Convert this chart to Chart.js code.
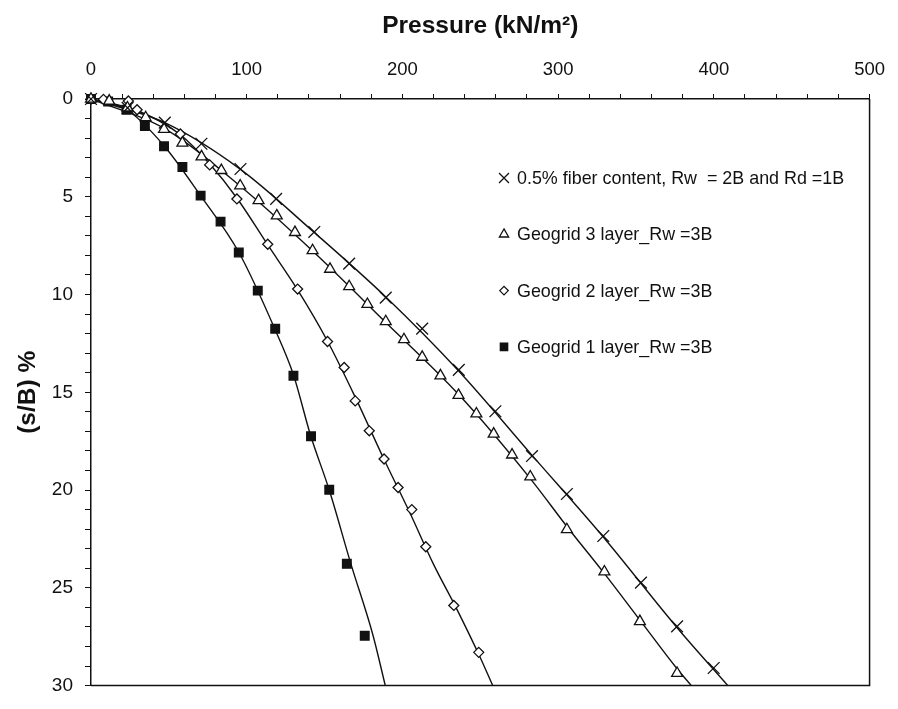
<!DOCTYPE html>
<html>
<head>
<meta charset="utf-8">
<title>Pressure vs settlement ratio</title>
<script src="https://cdn.jsdelivr.net/npm/chart.js@4.4.1/dist/chart.umd.min.js"></script>
<style>
  html, body { margin: 0; padding: 0; background: #fff; }
  #wrap { width: 898px; height: 709px; position: relative; }
</style>
</head>
<body>
<div id="wrap"><canvas id="c" width="898" height="709"></canvas></div>
<script>
// Series labels
const seriesNames = [
  '0.5% fiber content, Rw  = 2B and Rd =1B',
  'Geogrid 3 layer_Rw =3B',
  'Geogrid 2 layer_Rw =3B',
  'Geogrid 1 layer_Rw =3B'
];

// Measured points: pressure (kN/m2) and settlement ratio s/B (%)
const fiberP = [0, 23.5, 47.4, 70.9, 96.0, 118.9, 143.4, 165.8, 189.3, 212.7, 236.2, 259.7, 283.2, 305.6, 329.0, 353.2, 376.4, 399.9];
const fiberS = [0, 0.45, 1.21, 2.29, 3.58, 5.11, 6.8, 8.42, 10.16, 11.74, 13.85, 15.97, 18.26, 20.2, 22.35, 24.73, 26.97, 29.1];

const grid3P = [0, 11.7, 23.4, 35.1, 46.9, 58.7, 71.0, 83.7, 95.8, 107.6, 119.3, 131.0, 142.3, 153.5, 165.8, 177.5, 189.3, 201.0, 212.7, 224.4, 236.0, 247.5, 258.6, 270.4, 282.1, 305.6, 329.7, 352.5, 376.4];
const grid3S = [0, 0.1, 0.45, 0.95, 1.55, 2.25, 2.95, 3.65, 4.44, 5.19, 5.97, 6.82, 7.75, 8.7, 9.59, 10.5, 11.38, 12.3, 13.2, 14.15, 15.15, 16.1, 17.13, 18.2, 19.32, 22.02, 24.18, 26.72, 29.37];

const grid2P = [0, 8, 24, 29.6, 57.4, 76.2, 93.7, 113.5, 132.7, 151.9, 162.6, 169.7, 178.7, 188.2, 197.2, 206, 215, 233, 249];
const grid2S = [0, 0.02, 0.1, 0.55, 1.79, 3.37, 5.11, 7.43, 9.72, 12.4, 13.73, 15.44, 16.97, 18.41, 19.87, 21.0, 22.9, 25.9, 28.3];

const grid1P = [0, 11, 22.8, 34.6, 46.9, 58.7, 70.4, 83.2, 94.9, 107.1, 118.3, 130.0, 141.3, 153.0, 164.3, 175.8];
const grid1S = [0, 0.13, 0.55, 1.38, 2.42, 3.48, 4.94, 6.27, 7.85, 9.8, 11.75, 14.15, 17.25, 19.98, 23.77, 27.45];

// Fitted curves through each data set, continued to the bottom of the plot
const fiberFitP = [0, 47, 96, 143, 189, 236, 283, 329, 376, 409];
const fiberFitS = [0, 1.2, 3.6, 6.8, 10.1, 13.9, 18.2, 22.4, 27.0, 30];
const grid3FitP = [0, 47, 95, 142, 189, 236, 282, 306, 330, 353, 376, 385.5];
const grid3FitS = [0, 1.5, 4.4, 7.75, 11.4, 15.1, 19.4, 21.9, 24.3, 26.7, 29.1, 30];
const grid2FitP = [0, 30, 57, 76, 94, 113, 133, 152, 170, 188, 205, 220, 235, 249, 258];
const grid2FitS = [0, 0.6, 1.8, 3.3, 5.1, 7.4, 9.8, 12.4, 15.3, 18.4, 21.2, 23.8, 26.1, 28.4, 30];
const grid1FitP = [0, 23, 47, 70, 95, 118, 130, 141, 153, 167, 181, 189];
const grid1FitS = [0, 0.55, 2.4, 4.9, 7.85, 11.75, 14.1, 17.2, 20, 23.8, 27.4, 30];

// Axis ticks
const xTickLabels = [0, 100, 200, 300, 400, 500];
const yTickLabels = [0, 5, 10, 15, 20, 25, 30];

const pts = (xs, ys) => xs.map((x, i) => ({ x, y: ys[i] }));
const FONT = '"Liberation Sans", Arial, Helvetica, sans-serif';
const INK = '#111';

function curve(xs, ys) {
  return {
    type: 'line', data: pts(xs, ys), borderColor: INK, borderWidth: 1.4,
    pointRadius: 0, fill: false, cubicInterpolationMode: 'monotone',
    order: 2, isFit: true
  };
}
function marks(label, xs, ys, style, radius, fill) {
  return {
    type: 'scatter', label, data: pts(xs, ys), showLine: false,
    pointStyle: style, pointRadius: radius, pointBorderWidth: 1.3,
    pointBorderColor: INK, pointBackgroundColor: fill,
    borderColor: INK, backgroundColor: fill,
    clip: false, order: 1
  };
}

const markerDefs = [
  marks(seriesNames[0], fiberP, fiberS, 'crossRot', 8.3, INK),
  marks(seriesNames[1], grid3P, grid3S, 'triangle', 6.3, '#fff'),
  marks(seriesNames[2], grid2P, grid2S, 'rectRot', 5, '#fff'),
  marks(seriesNames[3], grid1P, grid1S, 'rect', 6.1, INK)
];

// Frame on the right and bottom edges of the plot
const frame = {
  id: 'frame',
  afterDatasetsDraw(chart) {
    const { ctx, chartArea: a } = chart;
    ctx.save();
    ctx.strokeStyle = INK; ctx.lineWidth = 1.5;
    ctx.beginPath();
    ctx.moveTo(a.right, a.top); ctx.lineTo(a.right, a.bottom); ctx.lineTo(a.left, a.bottom);
    ctx.stroke();
    ctx.restore();
  }
};

// Key drawn inside the plot, marker then label
const key = {
  id: 'key',
  afterDraw(chart) {
    const { ctx, chartArea: a } = chart;
    const x0 = a.left + 413, y0 = a.top + 79, gap = 56.3;
    ctx.save();
    chart.data.datasets.filter(d => !d.isFit).forEach((d, i) => {
      const y = y0 + i * gap;
      ctx.strokeStyle = INK; ctx.fillStyle = d.pointBackgroundColor; ctx.lineWidth = 1.3;
      Chart.helpers.drawPoint(ctx, { pointStyle: d.pointStyle, radius: d.pointRadius * 0.85, rotation: 0, borderWidth: 1.3 }, x0, y);
      ctx.fillStyle = INK;
      ctx.font = '17.9px ' + FONT;
      ctx.textBaseline = 'middle'; ctx.textAlign = 'left';
      ctx.fillText(d.label, x0 + 13, y + 1);
    });
    ctx.restore();
  }
};

new Chart(document.getElementById('c'), {
  data: {
    datasets: [
      ...markerDefs,
      curve(fiberFitP, fiberFitS),
      curve(grid3FitP, grid3FitS),
      curve(grid2FitP, grid2FitS),
      curve(grid1FitP, grid1FitS)
    ]
  },
  options: {
    responsive: false, animation: false,
    layout: { padding: { left: 0, top: 0, right: 26, bottom: 6 } },
    plugins: { legend: { display: false }, tooltip: { enabled: false } },
    scales: {
      x: {
        type: 'linear', position: 'top', min: 0, max: 500,
        afterFit(s) { s.height = 99; },
        ticks: {
          stepSize: 20, autoSkip: false, maxRotation: 0, padding: 13, color: INK,
          font: { family: FONT, size: 18.5 },
          callback: v => xTickLabels.includes(v) ? String(v) : ''
        },
        grid: { drawOnChartArea: false, drawTicks: true, tickLength: 5, color: INK, lineWidth: 1 },
        border: { display: true, color: INK, width: 1.5 },
        title: {
          display: true, text: 'Pressure (kN/m²)', color: INK,
          font: { family: FONT, size: 24.5, weight: 'bold' }, padding: { top: 12, bottom: 0 }
        }
      },
      y: {
        type: 'linear', position: 'left', reverse: true, min: 0, max: 30,
        afterFit(s) { s.width = 91; },
        ticks: {
          stepSize: 1, autoSkip: false, padding: 12, color: INK,
          font: { family: FONT, size: 19 },
          callback: v => yTickLabels.includes(v) ? String(v) : ''
        },
        grid: { drawOnChartArea: false, drawTicks: true, tickLength: 6, color: INK, lineWidth: 1 },
        border: { display: true, color: INK, width: 1.5 },
        title: {
          display: true, text: '(s/B) %', color: INK,
          font: { family: FONT, size: 24.5, weight: 'bold' }, padding: { top: 14, bottom: 0 }
        }
      }
    }
  },
  plugins: [frame, key]
});
</script>
</body>
</html>
